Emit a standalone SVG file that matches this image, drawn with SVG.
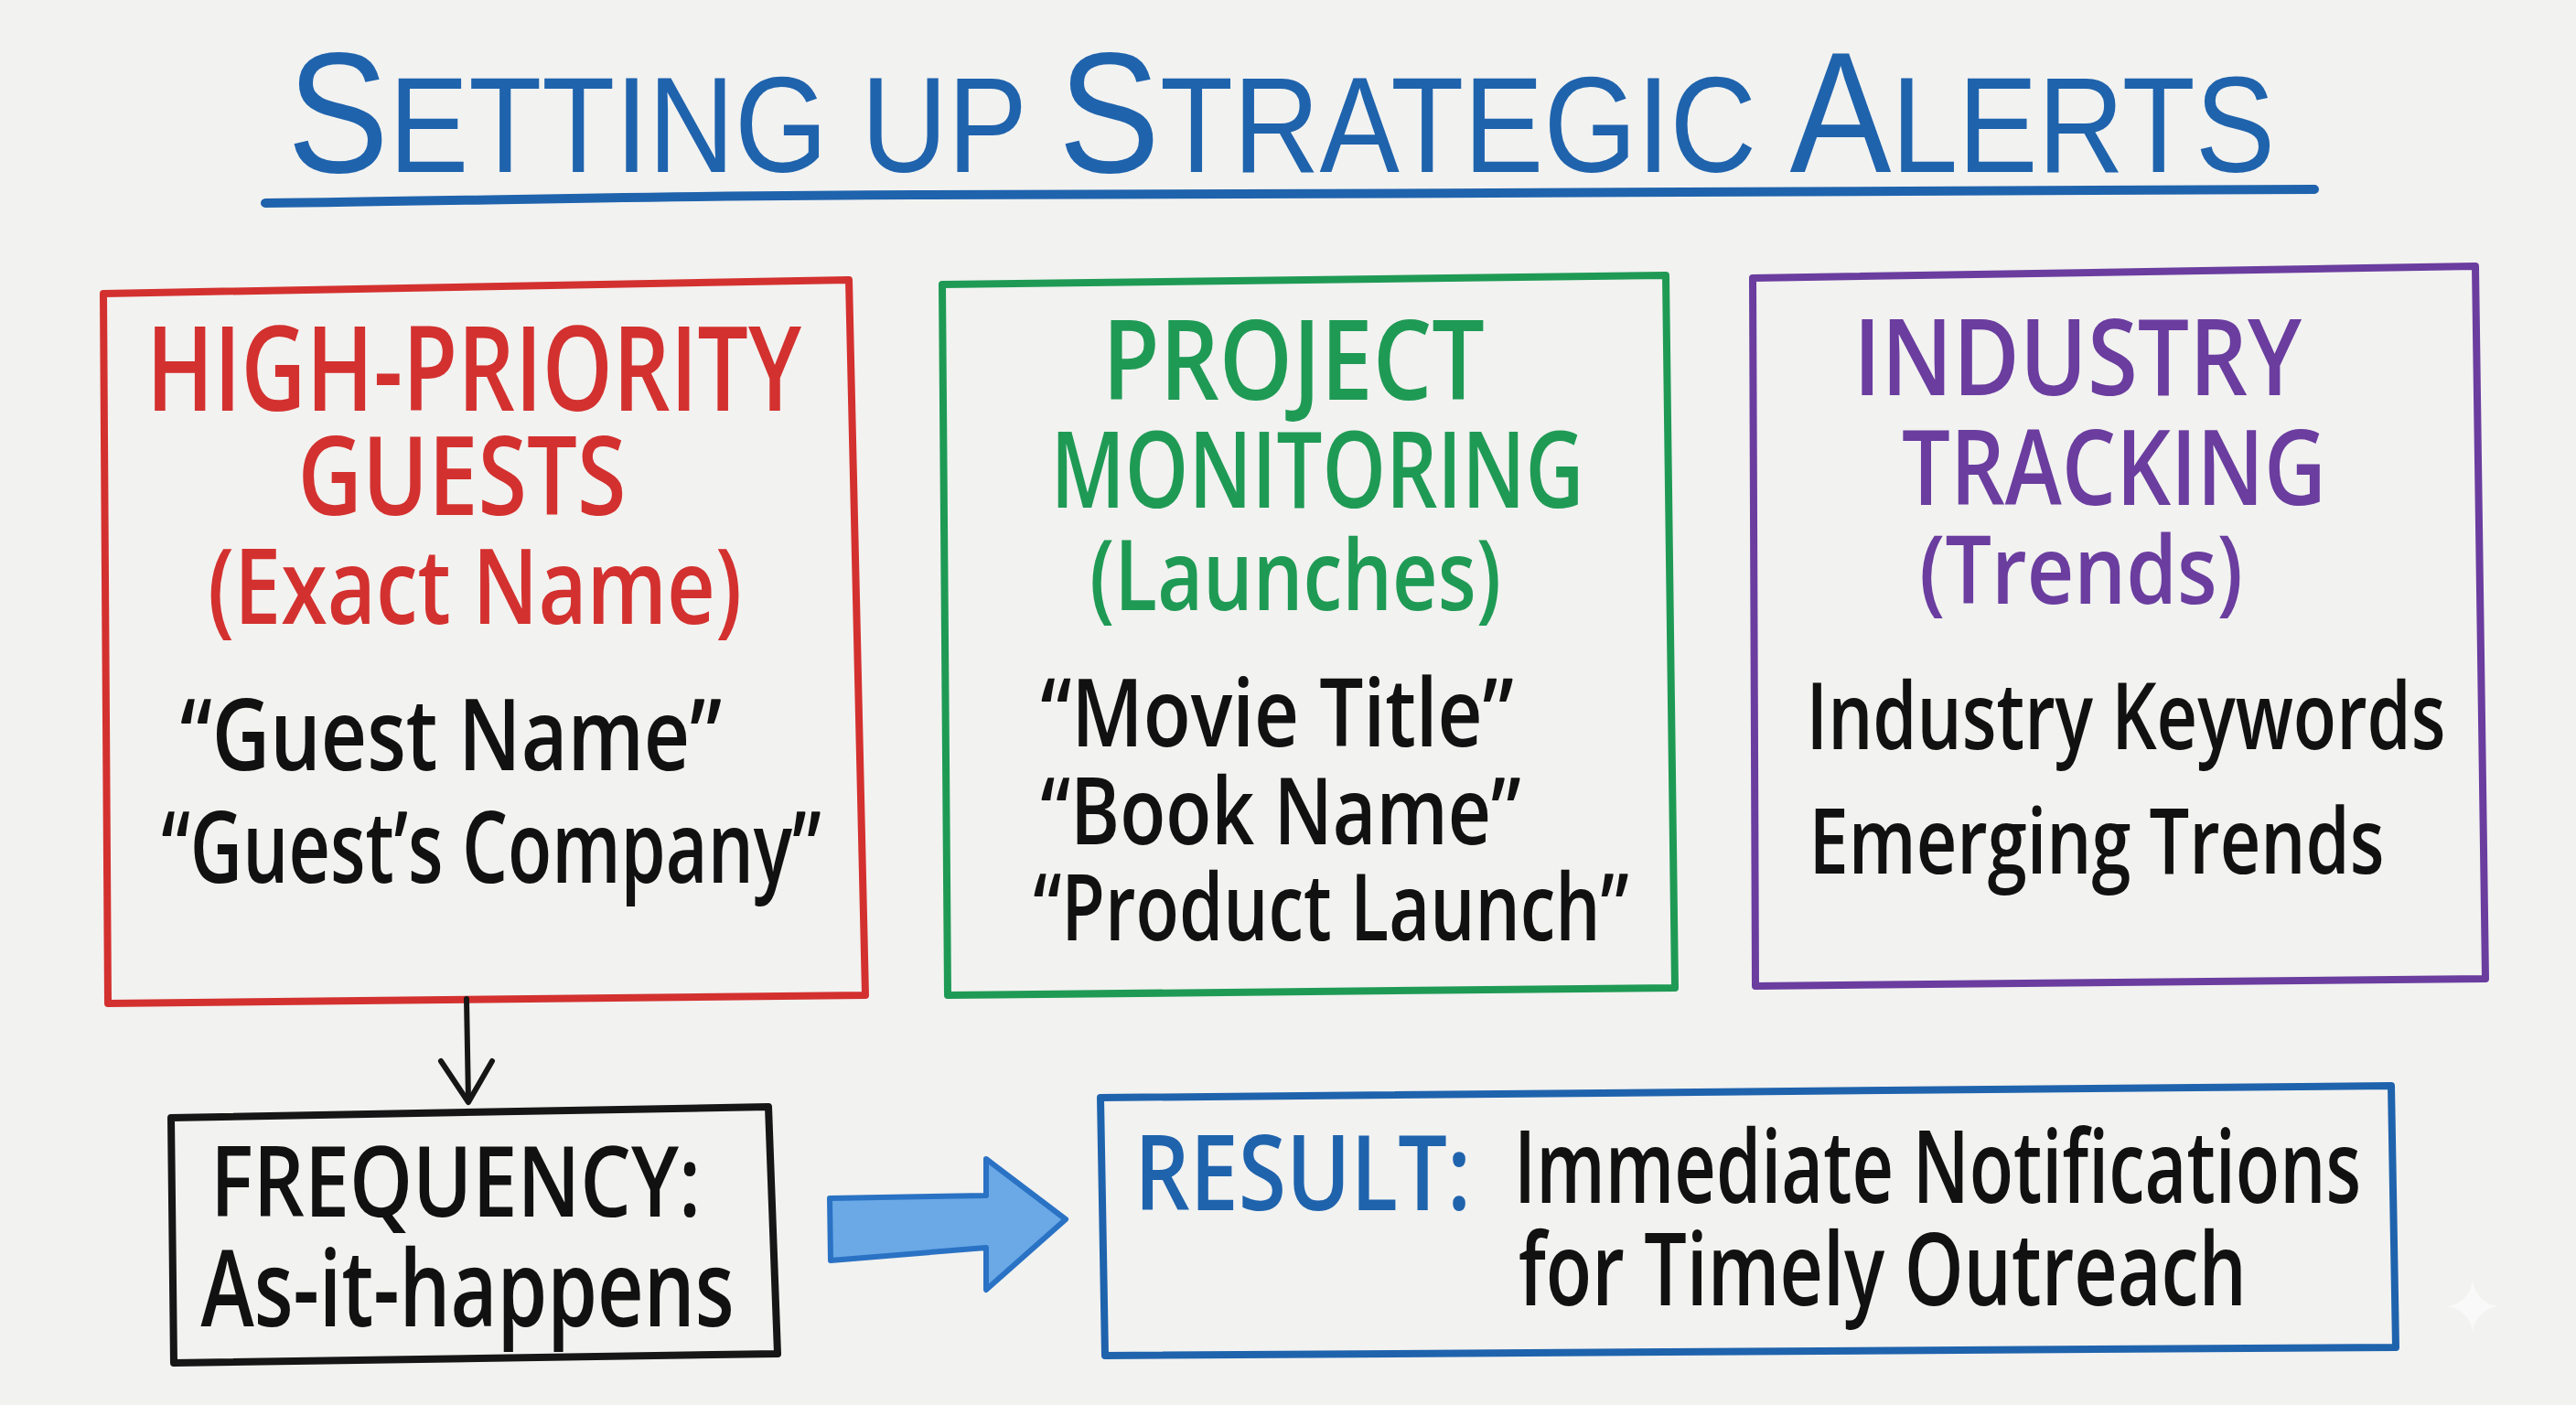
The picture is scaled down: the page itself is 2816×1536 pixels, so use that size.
<svg xmlns="http://www.w3.org/2000/svg" width="2816" height="1536" viewBox="0 0 2816 1536">
<style>
  .t { font-family: "Open Sans", "Noto Sans", "DejaVu Sans", sans-serif; }
  .tt { font-family: "Liberation Sans", "Open Sans", sans-serif; }
  .box { fill: none; stroke-width: 8; stroke-linejoin: round; stroke-linecap: round; }
  .red { fill: #d3312f; }
  .green { fill: #1f9a55; }
  .purple { fill: #6a3d9f; }
  .blue { fill: #1f63ad; }
  .ink { fill: #111111; }
  .h { font-weight: 600; }
  .b { font-weight: 600; }
</style>
<rect x="0" y="0" width="2816" height="1536" fill="#f2f2f0"/>

<g id="title">
  <text class="tt blue" x="314" y="188" textLength="2173" lengthAdjust="spacingAndGlyphs"><tspan font-size="188">S</tspan><tspan font-size="148">ETTING UP </tspan><tspan font-size="188">S</tspan><tspan font-size="148">TRATEGIC </tspan><tspan font-size="188">A</tspan><tspan font-size="148">LERTS</tspan></text>
  <path d="M290,222 C500,220 700,214 1000,213 C1500,212 2100,209 2530,207" fill="none" stroke="#1f63ad" stroke-width="10" stroke-linecap="round"/>
</g>

<g id="node-guests">
  <path class="box" stroke="#d3312f" d="M113,321 L928,306 L946,1088 L118,1097 Z"/>
  <text class="t red h" x="518" y="449" font-size="128" text-anchor="middle" textLength="716" lengthAdjust="spacingAndGlyphs">HIGH-PRIORITY</text>
  <text class="t red h" x="505" y="563" font-size="120" text-anchor="middle" textLength="359" lengthAdjust="spacingAndGlyphs">GUESTS</text>
  <text class="t red h" x="519" y="682" font-size="114" text-anchor="middle" textLength="584" lengthAdjust="spacingAndGlyphs">(Exact Name)</text>
  <text class="t ink b" x="493" y="842" font-size="108" text-anchor="middle" textLength="592" lengthAdjust="spacingAndGlyphs">“Guest Name”</text>
  <text class="t ink b" x="537" y="965" font-size="108" text-anchor="middle" textLength="721" lengthAdjust="spacingAndGlyphs">“Guest’s Company”</text>
</g>

<g id="node-projects">
  <path class="box" stroke="#1f9a55" d="M1030,311 L1821,301 L1831,1080 L1036,1088 Z"/>
  <text class="t green h" x="1414" y="437" font-size="122" text-anchor="middle" textLength="418" lengthAdjust="spacingAndGlyphs">PROJECT</text>
  <text class="t green h" x="1440" y="555" font-size="116" text-anchor="middle" textLength="583" lengthAdjust="spacingAndGlyphs">MONITORING</text>
  <text class="t green h" x="1416" y="667" font-size="106" text-anchor="middle" textLength="450" lengthAdjust="spacingAndGlyphs">(Launches)</text>
  <text class="t ink b" x="1396" y="816" font-size="104" text-anchor="middle" textLength="517" lengthAdjust="spacingAndGlyphs">“Movie Title”</text>
  <text class="t ink b" x="1400" y="923" font-size="102" text-anchor="middle" textLength="525" lengthAdjust="spacingAndGlyphs">“Book Name”</text>
  <text class="t ink b" x="1455" y="1028" font-size="102" text-anchor="middle" textLength="651" lengthAdjust="spacingAndGlyphs">“Product Launch”</text>
</g>

<g id="node-industry">
  <path class="box" stroke="#6a3d9f" d="M1916,304 L2706,291 L2717,1070 L1919,1078 Z"/>
  <text class="t purple h" x="2271" y="432" font-size="116" text-anchor="middle" textLength="490" lengthAdjust="spacingAndGlyphs">INDUSTRY</text>
  <text class="t purple h" x="2311" y="552" font-size="114" text-anchor="middle" textLength="464" lengthAdjust="spacingAndGlyphs">TRACKING</text>
  <text class="t purple h" x="2275" y="660" font-size="104" text-anchor="middle" textLength="354" lengthAdjust="spacingAndGlyphs">(Trends)</text>
  <text class="t ink b" x="2324" y="819" font-size="102" text-anchor="middle" textLength="699" lengthAdjust="spacingAndGlyphs">Industry Keywords</text>
  <text class="t ink b" x="2292" y="955" font-size="100" text-anchor="middle" textLength="629" lengthAdjust="spacingAndGlyphs">Emerging Trends</text>
</g>

<g id="node-frequency">
  <path class="box" stroke="#161616" d="M187,1222 L840,1210 L850,1480 L190,1490 Z"/>
  <text class="t ink b" x="498" y="1330" font-size="106" text-anchor="middle" textLength="536" lengthAdjust="spacingAndGlyphs">FREQUENCY:</text>
  <text class="t ink b" x="511" y="1450" font-size="116" text-anchor="middle" textLength="583" lengthAdjust="spacingAndGlyphs">As-it-happens</text>
</g>

<g id="node-result">
  <path class="box" stroke="#1f63ad" d="M1203,1200 L2614,1187 L2619,1473 L1208,1482 Z"/>
  <text class="t blue h" x="1240" y="1323" font-size="114" textLength="368" lengthAdjust="spacingAndGlyphs">RESULT:</text>
  <text class="t ink b" x="1655" y="1315" font-size="110" textLength="926" lengthAdjust="spacingAndGlyphs">Immediate Notifications</text>
  <text class="t ink b" x="1660" y="1427" font-size="110" textLength="796" lengthAdjust="spacingAndGlyphs">for Timely Outreach</text>
</g>

<g id="connectors">
  <g id="arrow-guests-frequency" fill="none" stroke="#161616" stroke-width="6" stroke-linecap="round" stroke-linejoin="round">
    <path d="M510,1092 L512,1203"/>
    <path d="M482,1160 L512,1205 L538,1160"/>
  </g>
  <path id="arrow-frequency-result" d="M907,1310 L1078,1307 L1078,1267 L1165,1333 L1078,1410 L1078,1364 L908,1378 Z" fill="#6aa9e6" stroke="#2a72c4" stroke-width="6" stroke-linejoin="round"/>
</g>

<path d="M2703,1400 Q2707,1424 2731,1428 Q2707,1432 2703,1456 Q2699,1432 2675,1428 Q2699,1424 2703,1400 Z" fill="#fafafa" opacity="0.9"/>
</svg>
